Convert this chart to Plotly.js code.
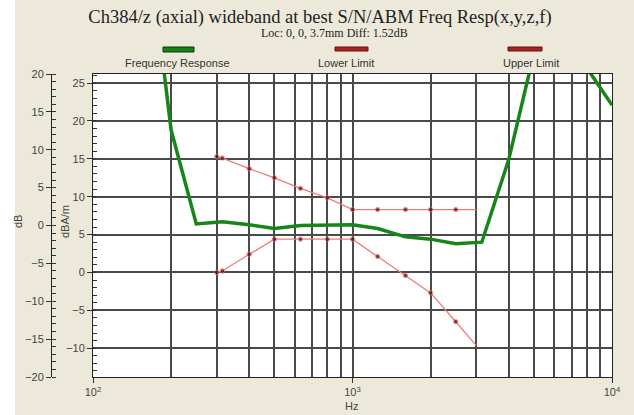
<!DOCTYPE html>
<html>
<head>
<meta charset="utf-8">
<script src="https://cdn.plot.ly/plotly-3.0.1.min.js"></script>
<style>html,body{margin:0;padding:0;background:#ece9da;}#chart{width:634px;height:415px;}</style>
</head>
<body>
<div id="chart"></div>
<script>
// ---- data ----
const respFreq = [160, 200, 250, 315, 400, 500, 630, 800, 1000, 1250, 1600, 2000, 2500, 3150, 4000, 5000, 6300, 8000, 10000];
const respVal  = [46.2, 18.8, 6.4, 6.7, 6.3, 5.8, 6.2, 6.25, 6.3, 5.8, 4.7, 4.4, 3.8, 4.0, 14.9, 28.9, 33.0, 27.0, 22.1];
const limFreq  = [300, 315, 400, 500, 630, 800, 1000, 1250, 1600, 2000, 2500, 3000];
const upperVal = [15.3, 15.1, 13.7, 12.5, 11.1, 9.85, 8.3, 8.3, 8.3, 8.3, 8.3, 8.3];
const lowerVal = [0.0, 0.2, 2.4, 4.4, 4.4, 4.4, 4.4, 2.1, -0.4, -2.7, -6.5, -9.65];
const decadeTicks = [100, 1000, 10000];
const decadeText = ['10<sup>2</sup>', '10<sup>3</sup>', '10<sup>4</sup>'];
const minorFreqs = [200, 300, 400, 500, 600, 700, 800, 900, 2000, 3000, 4000, 5000, 6000, 7000, 8000, 9000];
const seriesNames = ['Frequency Response', 'Lower Limit', 'Upper Limit'];
const titleText = 'Ch384/z (axial) wideband at best S/N/ABM Freq Resp(x,y,z,f)';
const subText = 'Loc: 0, 0, 3.7mm Diff: 1.52dB';

// ---- geometry helpers (pixel -> paper) ----
const W = 634, H = 415, ML = 40, MR = 22, MT = 74, MB = 38;
const PW = W - ML - MR, PH = H - MT - MB;
const px = x => (x - ML) / PW;
const py = y => (H - MB - y) / PH;

const gridCol = '#4a4a4a';
const gridW = 2;
const tickFont = {family: 'Liberation Sans, Arial, sans-serif', size: 11, color: '#444'};
const limMarkerSize = limFreq.map((f, i) => i === limFreq.length - 1 ? 0 : 4.5);

const traces = [
  {x: respFreq, y: respVal, type: 'scatter', mode: 'lines', name: seriesNames[0],
   line: {color: '#178517', width: 3.5}, cliponaxis: true, showlegend: false},
  {x: limFreq, y: lowerVal, type: 'scatter', mode: 'lines+markers', name: seriesNames[1],
   line: {color: '#f07a7a', width: 1.3}, marker: {color: '#4a0808', size: limMarkerSize}, showlegend: false},
  {x: limFreq, y: upperVal, type: 'scatter', mode: 'lines+markers', name: seriesNames[2],
   line: {color: '#f07a7a', width: 1.3}, marker: {color: '#4a0808', size: limMarkerSize}, showlegend: false},
  {x: [], y: [], type: 'scatter', mode: 'lines', yaxis: 'y2', showlegend: false, hoverinfo: 'skip'}
];

const legendX = [[163, 194], [335, 368], [508, 542]];
const legendCol = [['#1a7f1a', '#0b3a0b', 47, 52], ['#a32424', '#6a1010', 47, 51], ['#a32424', '#6a1010', 47, 51]];
const legendLabelX = [177, 346, 531];

const shapes = [
  {type: 'rect', xref: 'paper', yref: 'paper', x0: px(0), x1: px(15), y0: py(415), y1: py(0),
   fillcolor: '#ffffff', line: {width: 0}, layer: 'above'}
];
legendX.forEach((lx, i) => {
  shapes.push({type: 'rect', xref: 'paper', yref: 'paper', x0: px(lx[0]), x1: px(lx[1]),
    y0: py(legendCol[i][3]), y1: py(legendCol[i][2]), fillcolor: legendCol[i][0],
    line: {color: legendCol[i][1], width: 1}});
});

const annotations = [
  {text: subText, xref: 'paper', yref: 'paper', x: px(334), y: py(33), showarrow: false,
   font: {family: 'Liberation Serif, Times New Roman, serif', size: 12, color: '#222'}, xanchor: 'center', yanchor: 'middle'},
  {text: 'Hz', xref: 'paper', yref: 'paper', x: px(351), y: py(406), showarrow: false,
   font: tickFont, xanchor: 'center', yanchor: 'middle'},
  {text: 'dB', xref: 'paper', yref: 'paper', x: px(18), y: py(222), showarrow: false, textangle: -90,
   font: tickFont, xanchor: 'center', yanchor: 'middle'},
  {text: 'dBA/m', xref: 'paper', yref: 'paper', x: px(65), y: py(222), showarrow: false, textangle: -90,
   font: tickFont, xanchor: 'center', yanchor: 'middle'}
];
seriesNames.forEach((n, i) => {
  annotations.push({text: n, xref: 'paper', yref: 'paper', x: px(legendLabelX[i]), y: py(63), showarrow: false,
    font: {family: 'Liberation Sans, Arial, sans-serif', size: 11, color: '#333'}, xanchor: 'center', yanchor: 'middle'});
});

const layout = {
  width: W, height: H,
  margin: {l: ML, r: MR, t: MT, b: MB, pad: 0},
  paper_bgcolor: '#ece9da', plot_bgcolor: '#ffffff',
  showlegend: false,
  title: {text: titleText, x: px(320), xref: 'paper', xanchor: 'center', y: 1 - 17 / H, yanchor: 'middle',
    font: {family: 'Liberation Serif, Times New Roman, serif', size: 18.5, color: '#222'}},
  xaxis: {type: 'log', range: [2, 4], domain: [px(93), 1], autorange: false,
    tickmode: 'array', tickvals: decadeTicks, ticktext: decadeText,
    ticks: 'outside', ticklen: 5, tickcolor: '#333', tickfont: tickFont,
    showgrid: true, gridcolor: gridCol, gridwidth: gridW,
    minor: {tickmode: 'array', tickvals: minorFreqs, showgrid: true, gridcolor: gridCol, gridwidth: gridW, ticks: ''},
    showline: true, linecolor: '#222', linewidth: 1, mirror: true, zeroline: false},
  yaxis: {range: [-13.8, 26.2], autorange: false, dtick: 5, tick0: 0,
    ticks: 'outside', ticklen: 5, tickcolor: '#333', tickfont: tickFont,
    minor: {dtick: 1, ticks: 'inside', ticklen: 4, tickcolor: '#333', showgrid: false},
    showgrid: true, gridcolor: gridCol, gridwidth: gridW,
    showline: true, linecolor: '#222', linewidth: 1, mirror: true, zeroline: false},
  yaxis2: {overlaying: 'y', anchor: 'free', position: px(51), side: 'left',
    range: [-20, 20], autorange: false, dtick: 5, tick0: 0,
    ticks: 'outside', ticklen: 5, tickcolor: '#333', tickfont: tickFont,
    minor: {dtick: 1, ticks: 'inside', ticklen: 4, tickcolor: '#333', showgrid: false},
    showgrid: false, showline: true, linecolor: '#222', linewidth: 1, zeroline: false},
  shapes: shapes,
  annotations: annotations
};

Plotly.newPlot('chart', traces, layout, {displayModeBar: false, staticPlot: true});
</script>
</body>
</html>
